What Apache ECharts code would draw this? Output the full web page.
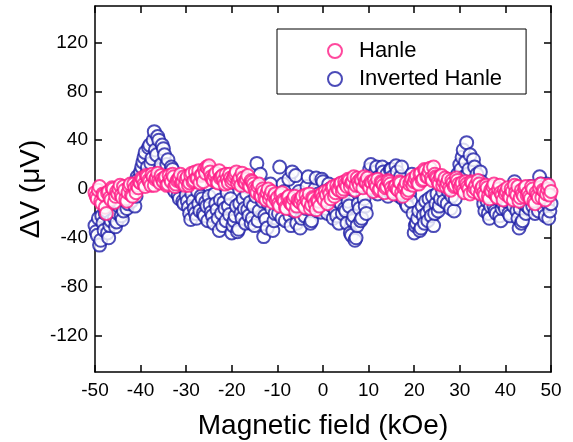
<!DOCTYPE html>
<html><head><meta charset="utf-8">
<script src="https://cdn.jsdelivr.net/npm/echarts@6/dist/echarts.min.js"></script>
<style>html,body{margin:0;padding:0;background:#fff}#c{width:573px;height:442px}</style>
</head><body><div id="c"></div>
<script>
// Field values (kOe): set A at -50, -49.5, ... 50 ; set B at -49.75, -49.25, ... 49.75
const startA = -50, startB = -49.75, fieldStep = 0.5;
const hanleA = [
 -3,-8,2,-12,-5,-20,-2,-9,0,-6,
 -4,3,-7,-1,-10,2,-5,4,-3,1,
 5,8,2,10,6,12,3,9,7,11,
 6,10,4,8,12,2,7,9,5,10,
 8,3,11,6,14,9,5,12,16,18,
 19,10,7,13,5,9,11,4,8,12,
 6,10,14,7,3,9,5,11,2,6,
 1,-3,4,-6,-2,-9,0,-5,-11,-4,
 -7,-14,-3,-10,-16,-6,-12,-8,-18,-9,
 -11,-6,-15,-9,-4,-13,-8,-17,-10,-5,
 -7,-2,-12,-4,1,-6,3,-1,5,0,
 4,8,2,6,-1,9,3,7,10,5,
 3,6,-2,4,8,0,5,-3,2,6,
 1,-4,3,-1,5,-6,2,-3,4,8,
 6,11,4,13,8,15,10,17,7,12,
 9,4,11,6,2,8,-1,5,3,7,
 1,5,-3,4,0,6,-2,3,7,-4,
 2,-5,1,-8,-2,4,-6,0,-3,-9,
 -4,1,-7,-2,3,-5,-10,-1,-6,2,
 -3,-8,0,-12,-5,1,-7,-2,-4,3,
 -2];
const hanleB = [
 -6,-1,-10,-4,-15,-3,-7,1,-11,-2,
 0,-5,2,-8,-3,4,-6,1,3,6,
 9,4,11,7,3,10,8,13,5,8,
 9,3,11,6,10,4,8,12,6,3,
 10,5,13,7,9,15,11,6,13,17,
 14,8,11,6,15,10,7,12,5,9,
 8,12,5,9,13,6,8,3,7,4,
 -1,2,-5,0,-7,-3,-8,-2,-6,-9,
 -12,-5,-9,-15,-7,-11,-13,-6,-14,-10,
 -8,-13,-5,-11,-16,-7,-12,-9,-14,-4,
 -9,-5,-1,-8,2,-3,0,4,-2,6,
 2,7,5,10,3,6,8,1,6,9,
 1,5,7,2,-1,6,3,1,7,4,
 -2,2,0,6,-3,1,5,-1,6,3,
 9,5,12,7,16,10,14,9,18,10,
 6,10,3,9,5,1,7,2,9,4,
 3,-1,6,2,-4,5,1,-1,4,0,
 -3,3,-6,-1,2,-4,-7,3,-5,-1,
 -2,-6,0,-9,-3,2,-7,-4,1,-5,
 -6,2,-10,-3,-7,4,-1,-9,0,-5];
const invertedA = [
 -30,-38,-46,-22,-34,-18,-40,-26,-15,-31,
 -20,-12,-25,-8,-16,-4,-10,2,-6,8,
 14,22,30,18,36,25,47,28,40,20,
 33,12,24,5,16,-2,8,-8,3,-12,
 -5,-15,-25,-10,-20,-2,-18,-8,-22,-14,
 -6,-19,-28,-12,-24,-9,-30,-16,-3,-21,
 -36,-26,-14,-33,-20,-8,-28,-17,-11,-24,
 -30,21,-18,-6,-39,-25,-12,4,-34,-20,
 -9,18,-24,-2,-15,8,-30,-18,11,-5,
 -32,-12,-22,2,-8,-26,-16,9,-4,-19,
 6,-10,-20,0,-14,-6,-22,-28,-12,-4,
 -18,-10,-36,-26,-42,-30,-16,-24,-8,-20,
 8,20,2,14,-4,10,18,4,12,-2,
 16,6,19,0,10,-8,4,-14,-4,12,
 -36,-28,-18,-32,-22,-10,-26,-16,-6,-20,
 -4,-14,2,-10,8,-2,-16,5,-8,12,
 20,26,10,38,16,4,24,8,-2,14,
 -6,-18,-10,-24,-2,-14,-20,-8,-26,-12,
 -16,-4,-22,-10,6,-18,-32,-28,-12,-20,
 -8,2,-14,-20,-4,10,-10,-16,4,-24,
 -12];
const invertedB = [
 -35,-24,-42,-28,-20,-36,-30,-12,-24,-27,
 -14,-22,-18,-2,-12,-7,4,-14,10,3,
 18,26,12,34,21,40,32,43,16,36,
 28,20,8,18,0,10,-5,6,-10,1,
 -10,-20,-4,-16,-24,-12,-6,-20,-11,-26,
 -13,-22,-4,-17,-34,-20,-11,-26,-14,-8,
 -30,-22,-35,-12,-24,-16,-4,-22,-28,-14,
 -6,-26,12,-10,-22,-32,-4,-16,-26,-8,
 -20,-12,4,-26,-10,-22,14,-14,-28,-2,
 -24,-6,-16,10,-28,-10,0,-18,-12,8,
 -2,-16,4,-8,-24,-18,-10,2,-20,-16,
 -28,-14,-38,-22,-40,-12,-26,-4,-14,2,
 16,6,0,18,10,2,14,8,-6,16,
 10,2,14,-6,18,-2,-12,6,-10,-20,
 -30,-24,-34,-14,-28,-20,-8,-22,-30,-12,
 -18,-8,-2,6,-12,0,-6,-18,10,2,
 16,32,22,12,28,6,18,12,0,6,
 -12,-2,-20,-14,-8,-18,-4,-22,-16,-6,
 -10,-20,-2,-14,-6,-24,-16,-26,-8,-14,
 -16,-4,-10,-2,-18,4,-8,-22,-12,-18];
const yTicks = [-120,-80,-40,0,40,80,120];
const xTicks = [-50,-40,-30,-20,-10,0,10,20,30,40,50];

const toPairs = (arr, start) => arr.map((v,i)=>[start + i*fieldStep, v]);
const merge = (a, b) => toPairs(a, startA).concat(toPairs(b, startB)).sort((p,q)=>p[0]-q[0]);
const pink = '#ff1a85', blue = '#1e1ea6';
const font = 'Liberation Sans, Arial, sans-serif';
const axisLine = {show:true, onZero:false, lineStyle:{color:'#000', width:1.5}};
const tick = {show:true, inside:true, length:7, lineStyle:{color:'#000', width:1.5}};

const chart = echarts.init(document.getElementById('c'), null, {renderer:'canvas'});
chart.setOption({
  animation:false,
  backgroundColor:'#fff',
  grid:{left:95, top:6, width:456, height:366, show:false, containLabel:false, outerBoundsMode:'none'},
  legend:{
    left:277, top:29, orient:'vertical',
    borderColor:'#000', borderWidth:1,
    padding:[11,24,4,50], itemGap:6, itemWidth:14, itemHeight:14,
    textStyle:{fontFamily:font, fontSize:22, color:'#000', padding:[0,0,0,12], lineHeight:22},
    data:[{name:'Hanle', icon:'emptyCircle'},{name:'Inverted Hanle', icon:'emptyCircle'}]
  },
  xAxis:[{
    type:'value', min:-50, max:50, interval:10, position:'bottom',
    name:'Magnetic field (kOe)', nameLocation:'middle', nameGap:40, nameMoveOverlap:false,
    nameTextStyle:{fontFamily:font, fontSize:28, color:'#000'},
    axisLine, axisTick:tick,
    axisLabel:{fontFamily:font, fontSize:19, color:'#000', margin:9, customValues:xTicks},
    splitLine:{show:false}
  },{
    type:'value', min:-50, max:50, interval:10, position:'top',
    axisLine, axisTick:tick, axisLabel:{show:false}, splitLine:{show:false}
  }],
  yAxis:[{
    type:'value', min:-150, max:150, position:'left',
    name:'ΔV (μV)', nameLocation:'middle', nameGap:50, nameRotate:90, nameMoveOverlap:false,
    nameTextStyle:{fontFamily:font, fontSize:28, color:'#000'},
    axisLine, axisTick:Object.assign({}, tick, {customValues:yTicks}),
    axisLabel:{fontFamily:font, fontSize:19, color:'#000', margin:7, customValues:yTicks},
    splitLine:{show:false}
  },{
    type:'value', min:-150, max:150, position:'right',
    axisLine, axisTick:Object.assign({}, tick, {customValues:yTicks}),
    axisLabel:{show:false}, splitLine:{show:false}
  }],
  series:[{
    name:'Inverted Hanle', type:'scatter', symbol:'emptyCircle', symbolSize:13,
    data:merge(invertedA, invertedB), z:2,
    itemStyle:{color:blue, borderColor:blue, borderWidth:1}
  },{
    name:'Hanle', type:'scatter', symbol:'emptyCircle', symbolSize:13,
    data:merge(hanleA, hanleB), z:3,
    itemStyle:{color:pink, borderColor:pink, borderWidth:1}
  }]
});
</script></body></html>
